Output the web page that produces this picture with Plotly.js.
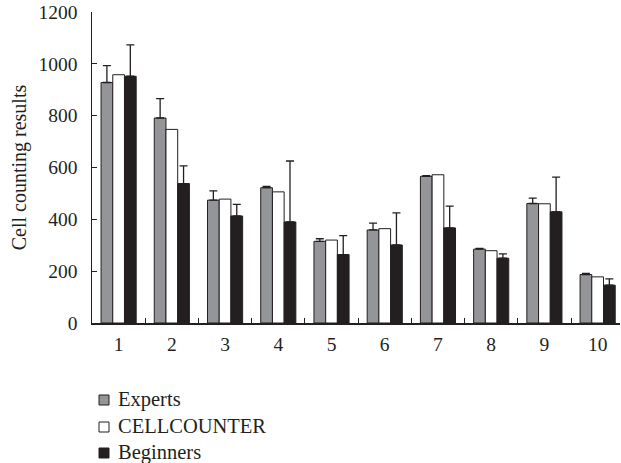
<!DOCTYPE html>
<html>
<head>
<meta charset="utf-8">
<script src="https://cdn.plot.ly/plotly-3.0.1.min.js"></script>
<style>html,body{margin:0;padding:0;background:#fff;overflow:hidden}</style>
</head>
<body>
<div id="chart" style="width:621px;height:463px"></div>
<script>
const categories = ["1","2","3","4","5","6","7","8","9","10"];
const seriesNames = ["Experts", "CELLCOUNTER", "Beginners"];
const expertsValues = [928, 791, 474, 522, 315, 359, 566, 285, 461, 187];
const expertsErrors = [65, 75, 36, 5, 10, 26, 3, 3, 21, 4];
const cellcounterValues = [958, 747, 478, 506, 320, 364, 572, 279, 460, 178];
const beginnersValues = [952, 538, 413, 390, 264, 301, 367, 250, 429, 146];
const beginnersErrors = [121, 68, 45, 235, 73, 124, 84, 17, 134, 24];
const yTicks = [0, 200, 400, 600, 800, 1000, 1200];

const dark = '#231f20';
const fills = ['#939598', '#ffffff', dark];
const serif = 'Liberation Serif, Times New Roman, serif';

// plot-area geometry (pixels) used for the hand-placed legend
const W = 621, H = 463, mL = 92, mR = 1, mT = 12, mB = 140;
const pw = W - mL - mR, ph = H - mT - mB;
const px2x = p => (p - mL) / pw;
const py2y = p => (H - mB - p) / ph;

const traces = [
  {
    type: 'bar', name: seriesNames[0], x: categories, y: expertsValues,
    marker: {color: fills[0], line: {color: dark, width: 1}},
    error_y: {type: 'data', array: expertsErrors, symmetric: false, arrayminus: expertsValues.map(() => 0), color: dark, thickness: 1.3, width: 4}
  },
  {
    type: 'bar', name: seriesNames[1], x: categories, y: cellcounterValues,
    marker: {color: fills[1], line: {color: dark, width: 1}}
  },
  {
    type: 'bar', name: seriesNames[2], x: categories, y: beginnersValues,
    marker: {color: fills[2], line: {color: dark, width: 1}},
    error_y: {type: 'data', array: beginnersErrors, symmetric: false, arrayminus: beginnersValues.map(() => 0), color: dark, thickness: 1.3, width: 4}
  }
];

const legendRows = [400, 427, 453];
const shapes = seriesNames.map((n, i) => ({
  type: 'rect', xref: 'paper', yref: 'paper',
  x0: px2x(99), x1: px2x(109),
  y0: py2y(legendRows[i] + 5), y1: py2y(legendRows[i] - 5),
  fillcolor: fills[i], line: {color: dark, width: 1}
}));
const annotations = seriesNames.map((n, i) => ({
  text: n, xref: 'paper', yref: 'paper',
  x: px2x(116), y: py2y(legendRows[i] - 1),
  xanchor: 'left', yanchor: 'middle', showarrow: false,
  font: {family: serif, size: 20.5, color: dark}
}));

const layout = {
  width: W, height: H,
  margin: {l: mL, r: mR, t: mT, b: mB},
  paper_bgcolor: '#fff', plot_bgcolor: '#fff',
  font: {family: serif, color: dark, size: 18},
  barmode: 'group', bargap: 0.34, bargroupgap: 0,
  showlegend: false,
  shapes: shapes,
  annotations: annotations,
  xaxis: {
    type: 'category', range: [-0.5, 9.42],
    showline: true, linecolor: dark, linewidth: 1.5,
    ticks: 'inside', ticklen: 5, tickwidth: 1, tickcolor: dark,
    tickson: 'boundaries', showgrid: false, zeroline: false,
    tickfont: {family: serif, size: 19.5, color: dark},
    ticklabelstandoff: 3
  },
  yaxis: {
    range: [0, 1200], tickvals: yTicks, ticktext: yTicks.map(String),
    showline: true, linecolor: dark, linewidth: 1.5,
    ticks: 'inside', ticklen: 5, tickwidth: 1, tickcolor: dark,
    showgrid: false, zeroline: false,
    tickfont: {family: serif, size: 19.5, color: dark},
    ticklabelstandoff: 9,
    title: {text: 'Cell counting results', font: {family: serif, size: 20, color: dark}, standoff: 6}
  }
};

Plotly.newPlot('chart', traces, layout, {displayModeBar: false, staticPlot: true});
</script>
</body>
</html>
